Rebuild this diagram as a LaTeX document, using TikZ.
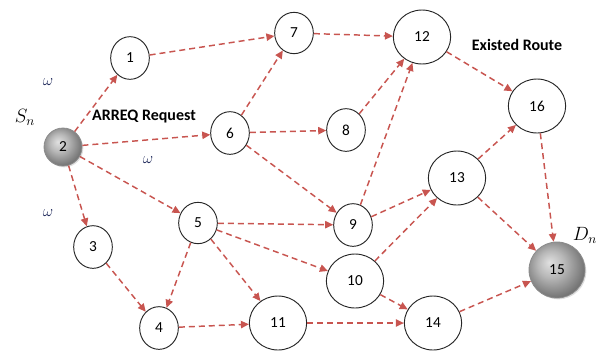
\documentclass[tikz,border=0pt]{standalone}
\usepackage{fontspec}
\setmainfont{Carlito}
\usetikzlibrary{arrows.meta,shapes.geometric,shadows}
\definecolor{routered}{RGB}{200,85,80}
\definecolor{omegablue}{RGB}{30,40,90}
\pgfdeclareradialshading{softball}{\pgfpoint{-7bp}{7bp}}{color(0bp)=(black!12); color(12bp)=(black!28); color(25bp)=(black!50); color(32bp)=(black!62); color(50bp)=(black!62)}
\begin{document}
\begin{tikzpicture}[x=0.75pt,y=-0.75pt,
  nd/.style={ellipse,draw=black!85,line width=0.7pt,inner sep=0pt,fill=white,font=\fontsize{11.5}{12}\selectfont},
  sm/.style={nd,minimum width=29pt,minimum height=32pt},
  lg/.style={nd,minimum width=43pt,minimum height=40.5pt},
  ballnode/.style={circle,draw=black!45,line width=0.6pt,inner sep=0pt,shading=softball,drop shadow={opacity=0.25,shadow xshift=1pt,shadow yshift=-1pt},font=\fontsize{11.5}{12}\selectfont},
  link/.style={draw=routered,line width=1.1pt,dash pattern=on 4.5pt off 3pt,-{Triangle[length=6pt,width=5.5pt,fill=routered]}},
  lbl/.style={font=\fontsize{12}{13}\selectfont\bfseries},
  om/.style={text=omegablue,font=\fontsize{13}{14}\selectfont}]
\useasboundingbox (0,0) rectangle (603,350);
% nodes
\node[ballnode,minimum size=28.5pt] (n2) at (63,147) {2};
\node[ballnode,minimum size=42pt] (n15) at (557,270) {15};
\node[sm] (n1) at (130,58) {1};
\node[sm,minimum height=31pt] (n7) at (294,33) {7};
\node[lg] (n12) at (422,37) {12};
\node[sm] (n6) at (230,133) {6};
\node[sm] (n8) at (346,130) {8};
\node[lg] (n16) at (537,106) {16};
\node[lg] (n13) at (457,178) {13};
\node[sm] (n9) at (353,225) {9};
\node[lg] (n10) at (355,281) {10};
\node[lg] (n14) at (433,323) {14};
\node[sm] (n3) at (93,247) {3};
\node[sm,minimum height=31pt] (n5) at (198,223) {5};
\node[sm] (n4) at (159,328) {4};
\node[lg] (n11) at (278,323) {11};
% labels
\node[font=\fontsize{14}{16}\selectfont] (sn) at (25,117) {$S_n$};
\node[font=\fontsize{14}{16}\selectfont] (dn) at (585,235) {$D_n$};
\node[lbl] (arreq) at (144,117) {ARREQ Request};
\node[lbl] (exist) at (517,45) {Existed Route};
\node[om] (w1) at (48,82) {$\omega$};
\node[om] (w2) at (148,160) {$\omega$};
\node[om] (w3) at (48,213) {$\omega$};
% links
\draw[link] (n2) -- (n1);
\draw[link] (n2) -- (n6);
\draw[link] (n2) -- (n5);
\draw[link] (n2) -- (n3);
\draw[link] (n1) -- (n7);
\draw[link] (n6) -- (n7);
\draw[link] (n6) -- (n8);
\draw[link] (n6) -- (n9);
\draw[link] (n7) -- (n12);
\draw[link] (n8) -- (n12);
\draw[link] (n9) -- (n12);
\draw[link] (n12) -- (n16);
\draw[link] (n9) -- (n13);
\draw[link] (n10) -- (n13);
\draw[link] (n13) -- (n16);
\draw[link] (n16) -- (n15);
\draw[link] (n13) -- (n15);
\draw[link] (n14) -- (n15);
\draw[link] (n5) -- (n9);
\draw[link] (n5) -- (n10);
\draw[link] (n5) -- (n11);
\draw[link] (n5) -- (n4);
\draw[link] (n3) -- (n4);
\draw[link] (n4) -- (n11);
\draw[link] (n11) -- (n14);
\draw[link] (n10) -- (n14);
\end{tikzpicture}
\end{document}
